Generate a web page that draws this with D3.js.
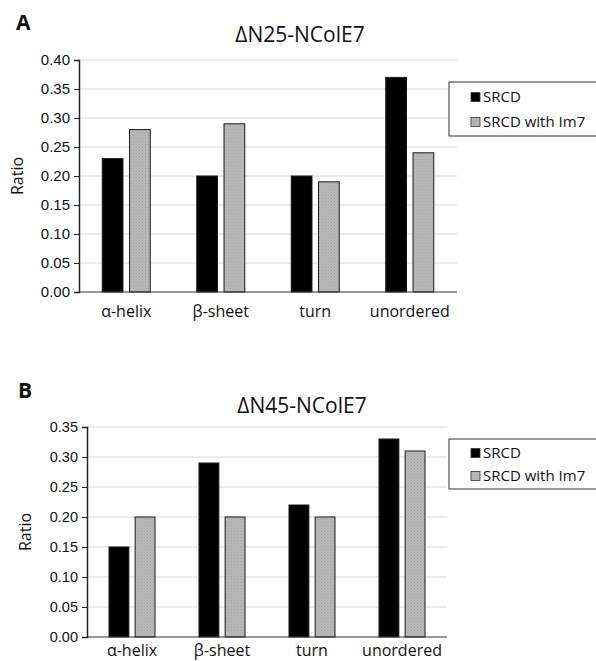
<!DOCTYPE html>
<html>
<head>
<meta charset="utf-8">
<script src="https://cdn.jsdelivr.net/npm/d3@7"></script>
<style>
  body { margin: 0; background: #fff; }
  svg { display: block; font-family: "Open Sans", "Noto Sans", sans-serif; }
</style>
</head>
<body>
<div id="chart"></div>
<script>
// data
const categories = ["α-helix", "β-sheet", "turn", "unordered"];
const seriesNames = ["SRCD", "SRCD with Im7"];
const n25Srcd = [0.23, 0.20, 0.20, 0.37];
const n25Im7 = [0.28, 0.29, 0.19, 0.24];
const n45Srcd = [0.15, 0.29, 0.22, 0.33];
const n45Im7 = [0.20, 0.20, 0.20, 0.31];
const n25Ticks = [0, 0.05, 0.10, 0.15, 0.20, 0.25, 0.30, 0.35, 0.40];
const n45Ticks = [0, 0.05, 0.10, 0.15, 0.20, 0.25, 0.30, 0.35];

const width = 596, height = 661;
const colors = ["#000000", "#b4b4b4"];

const svg = d3.select("#chart").append("svg")
    .attr("width", width)
    .attr("height", height);

// dotted texture for the grey bars
const defs = svg.append("defs");
const pat = defs.append("pattern")
    .attr("id", "dots")
    .attr("width", 3).attr("height", 3)
    .attr("patternUnits", "userSpaceOnUse");
pat.append("rect").attr("width", 3).attr("height", 3).attr("fill", "#b9b9b9");
pat.append("rect").attr("width", 1).attr("height", 1).attr("fill", "#a2a2a2");
pat.append("rect").attr("x", 1.5).attr("y", 1.5).attr("width", 1).attr("height", 1).attr("fill", "#a8a8a8");

function drawPanel(p) {
  const g = svg.append("g");

  const x0 = d3.scaleBand()
      .domain(categories)
      .range([p.left, p.right]);

  const y = d3.scaleLinear()
      .domain([0, p.max])
      .range([p.bottom, p.top]);

  const x1 = d3.scaleBand()
      .domain(seriesNames)
      .range([x0.bandwidth() / 2 - p.groupW / 2, x0.bandwidth() / 2 + p.groupW / 2])
      .paddingInner(0.24);

  // grid
  g.selectAll(".grid")
    .data(p.ticks.filter(t => t > 0))
    .join("line")
      .attr("x1", p.left).attr("x2", p.right)
      .attr("y1", d => y(d)).attr("y2", d => y(d))
      .attr("stroke", "#d9d9d9")
      .attr("stroke-width", 1);

  // y axis
  const yAxis = g.append("g")
      .attr("transform", `translate(${p.left},0)`)
      .call(d3.axisLeft(y).tickValues(p.ticks).tickFormat(d3.format(".2f")).tickSizeOuter(0).tickSize(5).tickPadding(4));
  yAxis.select(".domain").attr("stroke", "#222").attr("stroke-width", 1.5);
  yAxis.selectAll(".tick line").attr("stroke", "#222");
  yAxis.selectAll("text").attr("font-size", p.tickFont).attr("fill", "#111");

  // bars
  const data = [p.s1, p.s2];
  const groups = g.selectAll(".grp")
    .data(categories)
    .join("g")
      .attr("transform", d => `translate(${x0(d)},0)`);

  groups.selectAll("rect")
    .data((c, ci) => seriesNames.map((s, si) => ({ s, si, v: data[si][ci] })))
    .join("rect")
      .attr("x", d => x1(d.s))
      .attr("width", x1.bandwidth())
      .attr("y", d => y(d.v))
      .attr("height", d => y(0) - y(d.v))
      .attr("fill", d => d.si === 0 ? colors[0] : "url(#dots)")
      .attr("stroke", "#1a1a1a")
      .attr("stroke-width", 1);

  // x axis line
  g.append("line")
    .attr("x1", p.left).attr("x2", p.right)
    .attr("y1", y(0)).attr("y2", y(0))
    .attr("stroke", "#333").attr("stroke-width", 1.2);

  // category labels
  g.selectAll(".cat")
    .data(categories)
    .join("text")
      .attr("x", d => x0(d) + x0.bandwidth() / 2)
      .attr("y", y(0) + p.catGap)
      .attr("text-anchor", "middle")
      .attr("font-size", 16)
      .attr("fill", "#111")
      .text(d => d);

  // y label
  g.append("text")
    .attr("transform", `translate(${p.yLabelX},${(p.top + p.bottom) / 2}) rotate(-90)`)
    .attr("text-anchor", "middle")
    .attr("font-size", 16)
    .attr("fill", "#111")
    .text("Ratio");

  // title
  g.append("text")
    .attr("x", p.titleX)
    .attr("y", p.titleY)
    .attr("text-anchor", "middle")
    .attr("font-size", 21)
    .attr("fill", "#111")
    .text(p.title);

  // panel letter
  g.append("text")
    .attr("x", p.letterX)
    .attr("y", p.letterY)
    .attr("font-size", 21)
    .attr("font-weight", "bold")
    .attr("fill", "#111")
    .text(p.letter);

  // legend
  const lg = g.append("g").attr("transform", `translate(449,${p.legendY})`);
  lg.append("rect")
    .attr("width", 160).attr("height", p.legendH)
    .attr("fill", "#fff").attr("stroke", "#333").attr("stroke-width", 1);
  seriesNames.forEach((s, i) => {
    const yy = p.legendH * (0.28 + 0.46 * i);
    lg.append("rect")
      .attr("x", 22).attr("y", yy - 4.5)
      .attr("width", 9).attr("height", 9)
      .attr("fill", i === 0 ? colors[0] : "url(#dots)")
      .attr("stroke", "#333").attr("stroke-width", 0.8);
    lg.append("text")
      .attr("x", 34).attr("y", yy + 5)
      .attr("font-size", 15)
      .attr("fill", "#111")
      .text(s);
  });
}

drawPanel({
  letter: "A", letterX: 16, letterY: 30,
  title: "ΔN25-NColE7", titleX: 300, titleY: 42,
  left: 79, right: 457, top: 60, bottom: 292, max: 0.40,
  ticks: n25Ticks, s1: n25Srcd, s2: n25Im7,
  groupW: 48, tickFont: 15, yLabelX: 23, catGap: 25,
  legendY: 82, legendH: 54
});

drawPanel({
  letter: "B", letterX: 18, letterY: 398,
  title: "ΔN45-NColE7", titleX: 302, titleY: 413,
  left: 87, right: 447, top: 427, bottom: 637, max: 0.35,
  ticks: n45Ticks, s1: n45Srcd, s2: n45Im7,
  groupW: 46, tickFont: 14.5, yLabelX: 31, catGap: 19,
  legendY: 439, legendH: 50
});
</script>
</body>
</html>
